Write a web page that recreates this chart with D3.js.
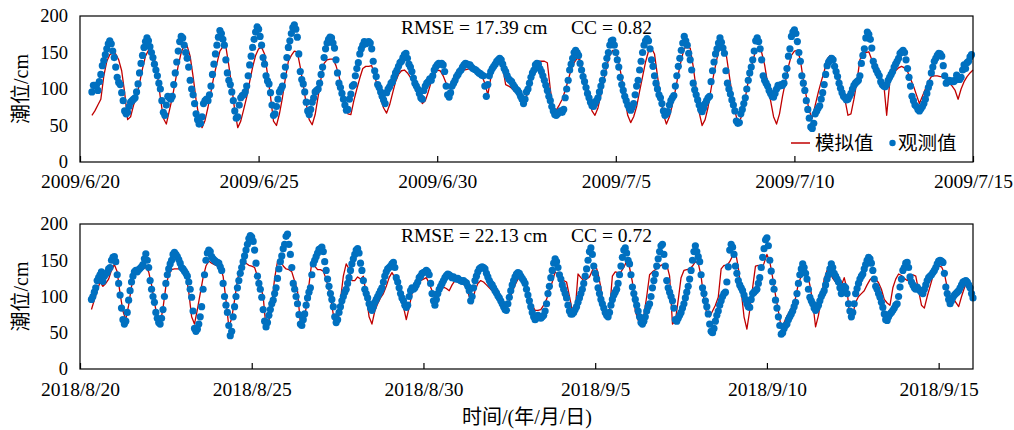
<!DOCTYPE html>
<html><head><meta charset="utf-8">
<script src="https://cdn.jsdelivr.net/npm/d3@7"></script>
<style>
body{margin:0;background:#fff}
svg{display:block}
text{font-family:"Liberation Serif","Times New Roman","Noto Sans CJK SC",serif;fill:#000}
</style>
</head><body>
<svg id="chart" width="1014" height="430"></svg>
<script>
// ---- data (hourly observations, 2-hourly simulation), first sample at hour 8 of day 0 ----
const obsStartHour = 8, obsStepHours = 1;
const simStartHour = 8, simStepHours = 2;

const obsTop = [
96,105,105,105,98,110,120,132,139,147,155,162,166,162,152,143,
130,116,109,106,95,84,70,66,68,76,82,84,86,88,96,107,122,135,146,157,165,170,166,158,
150,143,134,126,118,108,100,84,68,64,78,90,88,86,90,106,122,137,152,165,172,170,160,150,
142,130,112,100,92,80,66,58,52,53,62,80,84,86,84,92,104,120,134,148,160,171,180,176,
168,160,140,122,112,106,96,84,70,60,62,78,88,91,92,96,104,118,133,145,157,168,178,185,
182,172,160,143,134,118,111,107,95,78,64,66,76,86,96,100,104,118,130,143,157,166,176,184,
188,182,171,148,124,113,107,96,82,70,65,72,82,88,96,98,100,108,120,130,143,155,163,168,
171,170,163,156,140,122,108,102,94,86,78,71,72,86,93,104,106,118,128,136,148,155,160,165,
162,164,165,163,155,138,125,117,106,102,96,90,85,80,95,100,103,108,110,116,122,126,131,136,
138,143,147,149,142,134,130,124,115,108,104,100,94,88,86,98,104,108,110,114,112,118,126,130,
133,135,134,135,133,124,104,92,89,95,104,108,112,117,120,124,126,130,133,135,134,133,133,130,
128,127,126,124,122,121,119,118,104,90,106,118,124,128,131,134,138,140,142,140,134,128,124,118,
114,112,110,106,103,100,98,95,90,86,80,86,96,100,108,116,122,126,133,135,134,128,124,118,
112,105,98,90,84,76,70,65,64,66,68,70,68,72,88,100,112,126,134,142,150,153,150,146,
135,126,117,110,102,94,88,82,77,76,80,84,88,96,104,112,122,132,142,150,160,166,167,160,
150,140,130,116,106,98,90,84,78,74,71,75,80,92,104,112,126,138,150,160,166,169,166,155,
140,131,118,108,100,92,88,80,70,64,66,69,78,84,88,91,104,118,131,142,153,163,172,166,
160,149,140,126,108,99,92,85,78,72,69,74,80,84,88,90,110,125,137,148,155,163,170,164,
156,149,125,108,100,93,85,78,70,56,53,54,66,72,80,88,100,112,122,130,140,152,166,170,
165,155,140,118,112,108,104,98,94,90,89,94,100,105,104,106,105,108,118,128,145,155,172,178,
181,176,165,150,138,118,108,98,84,72,60,48,46,53,66,70,74,77,86,95,106,120,132,137,
140,142,140,131,124,117,108,101,95,90,88,85,86,90,94,100,105,108,110,112,118,135,146,155,
170,178,175,168,156,138,131,126,122,118,110,106,104,103,106,112,116,120,124,130,134,138,142,149,
151,153,150,140,128,116,104,90,84,78,76,72,70,73,76,80,86,94,102,108,122,130,138,142,
146,149,148,145,132,118,108,110,112,110,111,110,112,119,116,113,116,126,133,128,136,138,144,147
];

const simTop = [
64,70,78,86,118,138,147,149,
148,140,125,95,58,62,78,88,108,128,145,153,
153,142,120,88,60,52,70,88,110,132,150,160,
159,145,117,85,60,47,57,75,96,118,135,152,
158,158,132,103,70,47,56,72,89,110,130,146,
155,157,148,120,90,56,50,66,88,115,138,146,
152,151,130,105,80,58,51,65,90,115,135,140,
141,141,132,118,100,85,66,65,84,100,115,128,
131,131,132,118,102,86,74,67,78,94,110,120,
125,126,122,116,110,101,92,80,84,96,110,120,
126,125,118,108,101,106,113,118,123,126,127,128,
126,124,122,118,108,92,115,126,133,135,130,106,
104,101,97,93,89,85,90,100,118,130,138,138,
138,136,100,72,71,78,86,98,112,127,136,142,
140,124,106,86,70,64,74,92,112,132,146,153,
153,136,115,88,64,54,62,76,97,117,137,152,
156,148,118,90,65,52,62,78,98,120,140,156,
157,156,131,100,68,50,58,75,100,122,142,158,
157,150,122,95,70,54,60,74,100,120,138,153,
156,150,133,108,84,62,52,66,90,110,131,146,
152,153,140,112,90,70,60,78,95,110,124,141,
146,140,126,116,102,85,64,66,86,110,140,148,
150,151,140,128,117,112,108,64,108,120,125,129,
131,129,124,114,104,92,80,90,100,110,117,118,
118,117,117,114,109,104,98,86,100,110,117,122,
126
];

const obsBot = [
96,100,106,112,122,126,130,134,121,128,131,133,138,140,150,154,
155,148,130,118,102,84,68,62,66,78,95,108,120,128,134,136,134,137,139,141,144,152,159,150,
140,122,110,100,92,78,70,64,62,70,82,100,118,130,138,145,150,158,161,158,155,151,146,140,
138,135,132,128,120,110,99,80,56,52,55,62,72,86,110,130,150,160,164,162,155,152,150,148,
147,146,141,136,118,100,88,78,60,46,52,72,86,100,112,122,132,140,148,156,164,172,180,184,
182,176,164,146,128,118,110,99,82,66,58,64,74,82,90,95,104,112,125,138,148,156,166,172,
183,186,172,158,140,118,110,100,90,75,62,60,68,76,88,98,106,112,130,145,150,155,160,165,
166,168,162,148,136,124,114,104,96,86,72,64,68,78,86,94,100,106,110,118,126,136,145,152,
158,164,166,160,146,136,122,110,104,98,90,84,81,86,92,96,100,104,108,112,120,128,134,138,
140,142,145,147,140,126,120,112,104,98,94,88,85,88,100,108,112,110,112,116,120,126,128,132,
133,134,136,134,130,118,104,94,88,96,104,110,114,118,122,126,129,131,130,128,126,127,125,124,
125,123,122,121,122,120,119,114,108,94,100,112,122,128,134,138,140,141,140,138,132,127,122,118,
116,112,108,105,101,98,94,90,86,82,81,90,99,108,116,122,127,131,133,132,128,125,122,118,
110,102,94,86,78,72,68,70,74,72,70,72,74,80,90,104,114,126,136,146,152,148,140,130,
124,116,110,104,98,88,80,76,76,78,82,86,92,98,104,110,118,128,138,150,162,167,158,142,
132,124,112,104,96,90,84,78,74,72,78,88,96,102,106,110,118,130,142,154,164,167,160,150,
145,130,113,104,96,88,80,72,64,62,66,72,80,86,90,100,112,122,131,142,152,162,170,172,
158,142,122,112,106,100,94,84,68,66,70,74,78,84,90,98,106,114,124,136,150,162,170,162,
155,148,130,112,104,94,86,76,62,52,50,56,66,74,80,88,94,100,104,106,120,141,164,172,
168,158,142,132,122,116,112,108,102,96,90,86,85,96,104,106,108,110,118,126,140,154,166,178,
181,170,150,135,120,110,95,84,72,60,48,50,56,60,62,68,72,76,80,86,92,104,118,130,
138,145,140,132,124,110,99,94,90,84,81,84,88,94,100,104,108,116,124,130,138,145,140,132,
128,124,120,112,104,108,114,112,104,90,80,72,78,90,104,111,118,124,128,131,138,144,150,154,
152,146,136,124,114,110,104,99,92,85,76,68,67,72,76,78,81,84,88,90,100,113,124,136,
140,146,147,140,127,120,116,112,110,113,110,108,106,104,110,116,122,126,128,130,133,136,140,145,
149,150,149,147,132,113,104,96,90,94,99,102,104,106,108,112,116,120,121,122,120,116,112,104,
98
];

const simBot = [
82,95,108,120,114,118,124,136,
144,134,104,80,68,88,114,130,136,137,138,140,
134,116,92,72,62,84,114,130,137,138,138,138,
136,130,106,72,62,82,104,126,142,149,146,144,
142,140,128,95,58,70,95,122,142,150,146,143,
142,140,128,116,100,56,66,90,125,148,150,142,
138,137,134,121,108,62,64,84,116,148,142,137,
137,135,124,108,88,62,62,95,128,145,138,122,
122,127,124,128,102,72,62,80,90,98,104,114,
126,133,126,118,104,86,68,85,104,110,116,122,
124,126,118,108,100,100,108,113,111,108,116,122,
120,118,117,112,100,90,108,118,122,120,116,112,
108,104,98,92,85,82,94,106,116,124,126,120,
106,96,88,81,81,82,88,96,108,120,134,130,
124,122,120,100,81,80,131,126,122,124,127,136,
145,132,112,80,72,80,128,134,133,134,140,149,
140,120,80,67,70,74,100,130,134,137,140,143,
145,144,128,62,66,95,126,136,137,138,142,148,
146,128,95,76,72,80,88,99,138,143,143,148,
156,162,140,108,72,55,81,112,142,143,137,146,
158,148,126,102,80,57,64,73,80,88,98,118,
128,131,132,116,92,58,74,98,124,136,134,125,
120,115,115,126,110,68,76,92,100,104,108,116,
123,127,124,119,110,96,91,88,112,124,131,129,
125,122,126,130,128,108,88,84,100,114,128,142,
142,141,132,112,90,98,92,86,100,112,122,116,
104
];

const tickDays = [0, 5, 10, 15, 20, 25];
const tickLabelsTop = ["2009/6/20", "2009/6/25", "2009/6/30", "2009/7/5", "2009/7/10", "2009/7/15"];
const tickLabelsBot = ["2018/8/20", "2018/8/25", "2018/8/30", "2018/9/5", "2018/9/10", "2018/9/15"];
const yTicks = [0, 50, 100, 150, 200];
const statsTop = ["RMSE = 17.39 cm", "CC = 0.82"];
const statsBot = ["RMSE = 22.13 cm", "CC = 0.72"];
const seriesNames = ["模拟值", "观测值"];
const yTitle = "潮位/cm";
const xTitle = "时间/(年/月/日)";

// ---- drawing ----
const svg = d3.select("#chart");
const COL_SIM = "#C00000", COL_OBS = "#0070C0";
const L = 80, R = 973;

const panels = [
  {obs: obsTop, sim: simTop, days: 25, labels: tickLabelsTop, stats: statsTop, top: 16, bottom: 162, legend: true, pad: 12},
  {obs: obsBot, sim: simBot, days: 26, labels: tickLabelsBot, stats: statsBot, top: 224, bottom: 369, legend: false, pad: 13}
];

panels.forEach(p => {
  const x = d3.scaleLinear().domain([0, p.days]).range([L, R]);
  const y = d3.scaleLinear().domain([0, 200]).range([p.bottom, p.top]);
  const g = svg.append("g");

  const simPts = p.sim.map((v, i) => [(simStartHour + i * simStepHours) / 24, v]);
  const obsPts = p.obs.map((v, i) => [(obsStartHour + i * obsStepHours) / 24, v]);

  // simulated line
  g.append("path")
    .datum(simPts)
    .attr("fill", "none")
    .attr("stroke", COL_SIM)
    .attr("stroke-width", 1.3)
    .attr("stroke-linejoin", "round")
    .attr("d", d3.line().x(d => x(d[0])).y(d => y(d[1])));

  // observed dots
  g.append("g").selectAll("circle").data(obsPts).join("circle")
    .attr("cx", d => x(d[0]))
    .attr("cy", d => y(d[1]))
    .attr("r", 3.6)
    .attr("fill", COL_OBS);

  // frame
  g.append("rect")
    .attr("x", L).attr("y", p.top)
    .attr("width", R - L).attr("height", p.bottom - p.top)
    .attr("fill", "none").attr("stroke", "#000").attr("stroke-width", 1.2);

  // x axis
  const xAxis = d3.axisBottom(x)
    .tickValues(tickDays)
    .tickFormat((d, i) => p.labels[i])
    .tickSizeInner(-6).tickSizeOuter(0).tickPadding(p.pad);
  const gx = g.append("g").attr("transform", `translate(0,${p.bottom})`).call(xAxis);
  gx.select(".domain").remove();
  gx.selectAll("line").attr("stroke", "#000").attr("stroke-width", 1.2);
  gx.selectAll("text").attr("font-size", 19.5).attr("font-family", "Liberation Serif").attr("fill", "#000");

  // y axis
  const yAxis = d3.axisLeft(y).tickValues(yTicks).tickSize(0).tickPadding(12);
  const gy = g.append("g").attr("transform", `translate(${L},0)`).call(yAxis);
  gy.select(".domain").remove();
  gy.selectAll("text").attr("font-size", 18.5).attr("font-family", "Liberation Serif").attr("fill", "#000");

  // y title
  g.append("text")
    .attr("transform", `translate(21,${(p.top + p.bottom) / 2}) rotate(-90)`)
    .attr("text-anchor", "middle")
    .attr("dy", "0.35em")
    .attr("font-size", 20)
    .text(yTitle);

  // stats
  g.append("text").attr("x", 401).attr("y", p.top + 18).attr("font-size", 19.5).text(p.stats[0]);
  g.append("text").attr("x", 571).attr("y", p.top + 18).attr("font-size", 19.5).text(p.stats[1]);

  if (p.legend) {
    const ly = p.top + 127;
    g.append("line").attr("x1", 791).attr("x2", 810).attr("y1", ly).attr("y2", ly)
      .attr("stroke", COL_SIM).attr("stroke-width", 1.5);
    g.append("text").attr("x", 815).attr("y", ly).attr("dy", "0.36em").attr("font-size", 19.5).text(seriesNames[0]);
    g.append("circle").attr("cx", 892.5).attr("cy", ly).attr("r", 3.2).attr("fill", COL_OBS);
    g.append("text").attr("x", 898).attr("y", ly).attr("dy", "0.36em").attr("font-size", 19.5).text(seriesNames[1]);
  }
});

svg.append("text")
  .attr("x", 527).attr("y", 424)
  .attr("text-anchor", "middle")
  .attr("font-size", 20)
  .text(xTitle);
</script>
</body></html>
